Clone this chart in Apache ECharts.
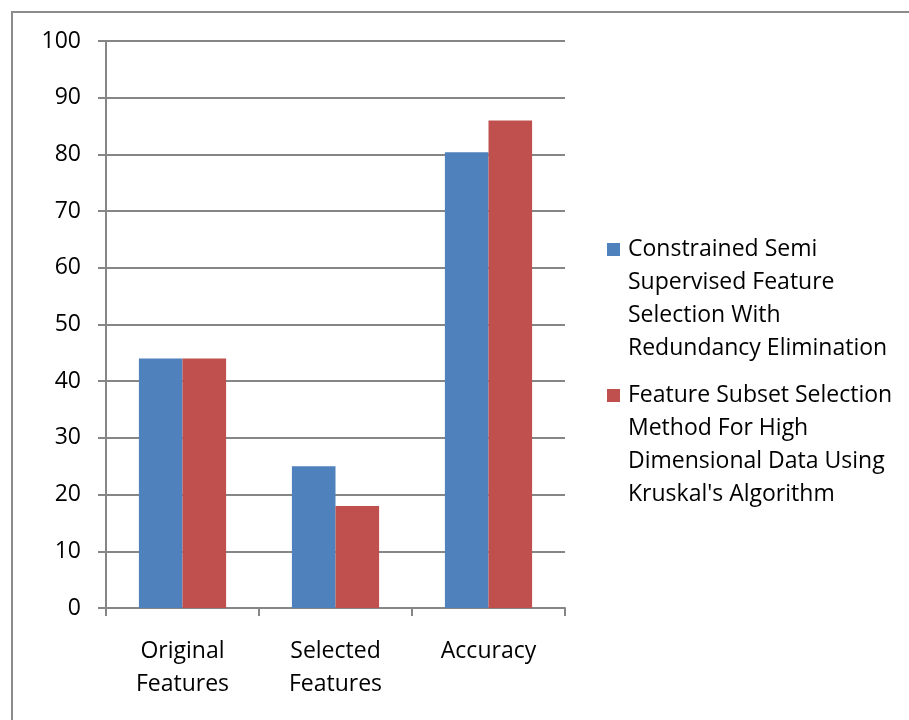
<!DOCTYPE html>
<html>
<head>
<meta charset="utf-8">
<script src="https://cdn.jsdelivr.net/npm/echarts@6/dist/echarts.min.js"></script>
<style>
  html, body { margin: 0; padding: 0; background: #fff; }
  #chart { width: 909px; height: 720px; }
</style>
</head>
<body>
<div id="chart"></div>
<script>
// Chart data
const categories = ['Original\nFeatures', 'Selected\nFeatures', 'Accuracy'];
const seriesNames = [
  'Constrained Semi Supervised Feature Selection With Redundancy Elimination',
  "Feature Subset Selection Method For High Dimensional Data Using Kruskal's Algorithm"
];
const legendLines = [
  ['Constrained Semi', 'Supervised Feature', 'Selection With', 'Redundancy Elimination'],
  ['Feature Subset Selection', 'Method For High', 'Dimensional Data Using', "Kruskal's Algorithm"]
];
const constrainedValues = [44, 25, 80.4];
const kruskalValues = [44, 18, 86];
const yTicks = [0, 10, 20, 30, 40, 50, 60, 70, 80, 90, 100];

const colors = ['#4F81BD', '#C0504D'];
const fontFamily = '"Open Sans", "Noto Sans", sans-serif';
const fontSize = 23;
const gray = '#868686';

const chart = echarts.init(document.getElementById('chart'), null, { renderer: 'canvas' });

// Legend text: a coloured square on the first line, later lines indented under it
function legendText(name) {
  const idx = seriesNames.indexOf(name);
  const key = idx === 0 ? 'sqA' : 'sqB';
  const lines = legendLines[idx];
  return lines.map((l, i) => (i === 0 ? '{' + key + '|}{gap|}' : '{ind|}') + '{t|' + l + '}').join('\n');
}

chart.setOption({
  animation: false,
  color: colors,
  graphic: [{
    type: 'rect',
    shape: { x: 12, y: 12, width: 1000, height: 1000 },
    style: { fill: 'none', stroke: '#8c8c8c', lineWidth: 2 },
    silent: true
  }],
  grid: { left: 106, right: 344, top: 41, bottom: 112, containLabel: false },
  legend: {
    orient: 'vertical',
    left: 597,
    top: 228,
    icon: 'none',
    itemWidth: 0,
    itemHeight: 10,
    itemGap: 14,
    data: seriesNames,
    formatter: legendText,
    textStyle: {
      fontFamily: fontFamily,
      fontSize: fontSize,
      color: '#000',
      lineHeight: 33,
      rich: {
        sqA: { width: 13, height: 13, backgroundColor: colors[0] },
        sqB: { width: 13, height: 13, backgroundColor: colors[1] },
        gap: { width: 8 },
        ind: { width: 21 },
        t: { fontFamily: fontFamily, fontSize: fontSize, color: '#000', lineHeight: 33 }
      }
    }
  },
  xAxis: {
    type: 'category',
    data: categories,
    axisLine: { lineStyle: { color: gray, width: 2 } },
    axisTick: { show: true, length: 8, lineStyle: { color: gray, width: 2 } },
    axisLabel: {
      fontFamily: fontFamily,
      fontSize: fontSize,
      color: '#000',
      lineHeight: 33,
      margin: 27
    }
  },
  yAxis: {
    type: 'value',
    min: yTicks[0],
    max: yTicks[yTicks.length - 1],
    interval: 10,
    axisLine: { show: true, lineStyle: { color: gray, width: 2 } },
    axisTick: { show: true, length: 8, lineStyle: { color: gray, width: 2 } },
    splitLine: { lineStyle: { color: gray, width: 2 } },
    axisLabel: {
      fontFamily: fontFamily,
      fontSize: fontSize,
      color: '#000',
      margin: 25
    }
  },
  series: [
    {
      name: seriesNames[0],
      type: 'bar',
      data: constrainedValues,
      barGap: '0%',
      barCategoryGap: '43%',
      itemStyle: { color: colors[0] }
    },
    {
      name: seriesNames[1],
      type: 'bar',
      data: kruskalValues,
      barGap: '0%',
      barCategoryGap: '43%',
      itemStyle: { color: colors[1] }
    }
  ]
});
</script>
</body>
</html>
